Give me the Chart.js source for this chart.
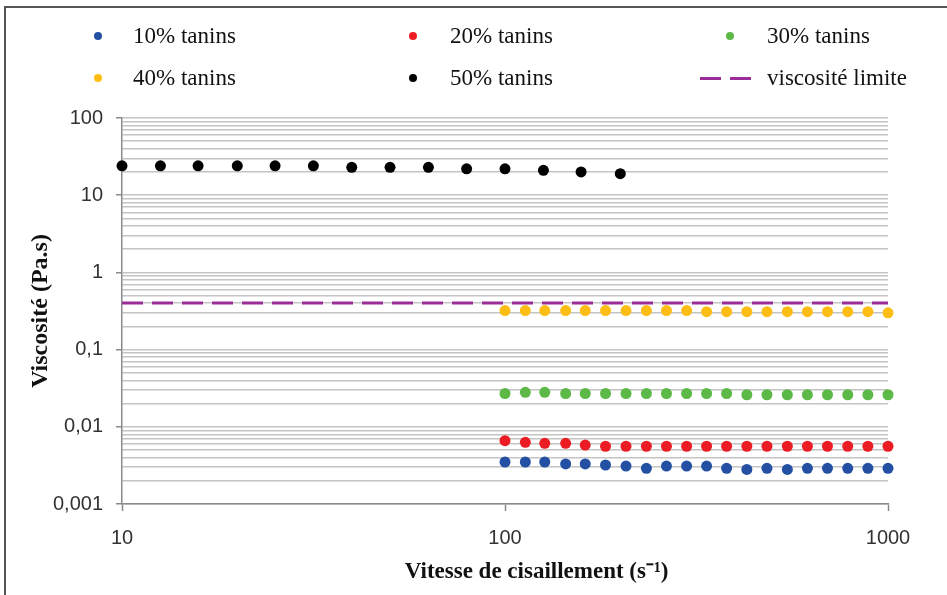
<!DOCTYPE html>
<html><head><meta charset="utf-8">
<script src="https://cdn.jsdelivr.net/npm/chart.js@4.4.0/dist/chart.umd.min.js"></script>
<style>
html,body{margin:0;padding:0;background:#fff;overflow:hidden;}
#wrap{position:relative;width:947px;height:595px;}
#frame{position:absolute;left:4px;top:6px;width:1200px;height:1200px;border:2px solid #555;pointer-events:none;}
#legend{position:absolute;left:0;top:0;width:947px;height:100px;font-family:"Liberation Serif",serif;font-size:23px;color:#111;}
.lt{position:absolute;white-space:nowrap;line-height:26px;}
.mk{position:absolute;}
</style></head><body>
<div id="wrap"><canvas id="c" width="947" height="595"></canvas><div id="legend"></div><div id="frame"></div></div>
<script>
// ---- data ----
const seriesLabels = ['10% tanins', '20% tanins', '30% tanins', '40% tanins', '50% tanins', 'viscosité limite'];
const shearLow = [10, 12.6, 15.8, 20, 25.1, 31.6, 39.8, 50.1, 63.1, 79.4, 100, 126, 158, 200];
const shearHigh = [100, 113, 127, 144, 162, 183, 207, 234, 264, 298, 336, 379, 428, 483, 546, 616, 695, 785, 886, 1000];
const visc10 = [0.0035, 0.0035, 0.0035, 0.0033, 0.0033, 0.0032, 0.0031, 0.0029, 0.0031, 0.0031, 0.0031, 0.0029, 0.0028, 0.0029, 0.0028, 0.0029, 0.0029, 0.0029, 0.0029, 0.0029];
const visc20 = [0.0066, 0.0063, 0.0061, 0.0061, 0.0058, 0.0056, 0.0056, 0.0056, 0.0056, 0.0056, 0.0056, 0.0056, 0.0056, 0.0056, 0.0056, 0.0056, 0.0056, 0.0056, 0.0056, 0.0056];
const visc30 = [0.027, 0.028, 0.028, 0.027, 0.027, 0.027, 0.027, 0.027, 0.027, 0.027, 0.027, 0.027, 0.026, 0.026, 0.026, 0.026, 0.026, 0.026, 0.026, 0.026];
const visc40 = [0.32, 0.32, 0.32, 0.32, 0.32, 0.32, 0.32, 0.32, 0.32, 0.32, 0.31, 0.31, 0.31, 0.31, 0.31, 0.31, 0.31, 0.31, 0.31, 0.30];
const visc50 = [24, 24, 24, 24, 24, 24, 23, 23, 23, 22, 22, 21, 20, 19];
const limitX = [10, 1000];
const limitY = [0.4, 0.4];
const yTickValues = [0.001, 0.01, 0.1, 1, 10, 100];
const yTickLabels = ['0,001', '0,01', '0,1', '1', '10', '100'];
const xTickValues = [10, 100, 1000];
const xTickLabels = ['10', '100', '1000'];
const colors = ['#2350a3', '#ec1c24', '#5cb947', '#fdbd14', '#000000', '#9b2d98'];

const pts = (xs, ys) => xs.map((x, i) => ({x: x, y: ys[i]}));
const isMajorY = v => yTickValues.some(t => Math.abs(t - v) / t < 1e-6);
const yGrid = [];
yTickValues.forEach((t, i) => {
  if (i === yTickValues.length - 1) { yGrid.push(t); return; }
  for (let k = 1; k <= 9; k++) yGrid.push(+(t * k).toPrecision(3));
});

const scatterDs = (idx, xs, ys) => ({
  label: seriesLabels[idx], data: pts(xs, ys), showLine: false,
  pointRadius: 5.5, pointBorderWidth: 0, backgroundColor: colors[idx], borderColor: colors[idx], clip: false
});

const chart = new Chart(document.getElementById('c'), {
  type: 'scatter',
  data: {
    datasets: [
      {label: seriesLabels[5], data: pts(limitX, limitY), showLine: true, pointRadius: 0,
       borderColor: colors[5], backgroundColor: colors[5], borderWidth: 3, borderDash: [21, 9], clip: false},
      scatterDs(0, shearHigh, visc10),
      scatterDs(1, shearHigh, visc20),
      scatterDs(2, shearHigh, visc30),
      scatterDs(3, shearHigh, visc40),
      scatterDs(4, shearLow, visc50)
    ]
  },
  options: {
    responsive: false, animation: false, events: [],
    layout: {padding: {left: 0, right: 59, top: 118, bottom: 0}},
    plugins: {legend: {display: false}, tooltip: {enabled: false}},
    scales: {
      x: {
        type: 'logarithmic', min: 10, max: 1000,
        afterFit: s => { s.height = 91; },
        afterBuildTicks: s => { s.ticks = xTickValues.map(v => ({value: v, major: true})); },
        grid: {drawOnChartArea: false, tickLength: 7, tickColor: '#8a8a8a', tickWidth: 1.5},
        border: {color: '#8a8a8a', width: 1.5},
        ticks: {autoSkip: false, maxRotation: 0, padding: 15, color: '#333',
          font: {family: 'Liberation Sans', size: 20},
          callback: v => { const i = xTickValues.findIndex(t => Math.abs(t - v) / t < 1e-6); return i >= 0 ? xTickLabels[i] : ''; }},
        title: {display: true, text: '           Vitesse de cisaillement (s\u207B\u00B9)', color: '#111',
          font: {family: 'Liberation Serif', size: 23, weight: 'bold'}, padding: {top: 0, bottom: 9}}
      },
      y: {
        type: 'logarithmic', min: 0.001, max: 100,
        afterFit: s => { s.width = 122; },
        afterBuildTicks: s => { s.ticks = yGrid.map(v => ({value: v, major: isMajorY(v)})); },
        grid: {color: '#c4c4c4', lineWidth: 1.5, tickLength: 6,
          tickColor: c => (c.tick && isMajorY(c.tick.value)) ? '#8a8a8a' : 'rgba(0,0,0,0)', tickWidth: 1.5},
        border: {color: '#8a8a8a', width: 1.5},
        ticks: {autoSkip: false, padding: 13, color: '#333',
          font: {family: 'Liberation Sans', size: 20},
          callback: v => { const i = yTickValues.findIndex(t => Math.abs(t - v) / t < 1e-6); return i >= 0 ? yTickLabels[i] : ''; }},
        title: {display: true, text: 'Viscosité (Pa.s)', color: '#111',
          font: {family: 'Liberation Serif', size: 24, weight: 'bold'}, padding: {top: 26, bottom: 0}}
      }
    }
  }
});

// ---- legend (HTML, built from the chart's datasets) ----
const legendCols = [{mk: 98, tx: 133}, {mk: 413, tx: 450}, {mk: 730, tx: 767}];
const legendRows = [36, 78];
const lg = document.getElementById('legend');
const order = [1, 2, 3, 4, 5, 0];
order.forEach((dsIdx, n) => {
  const ds = chart.data.datasets[dsIdx];
  const col = legendCols[n % 3], cy = legendRows[Math.floor(n / 3)];
  const t = document.createElement('div');
  t.className = 'lt'; t.textContent = ds.label;
  t.style.left = col.tx + 'px'; t.style.top = (cy - 13) + 'px';
  lg.appendChild(t);
  if (ds.showLine) {
    [0, 30].forEach(off => {
      const d = document.createElement('div');
      d.className = 'mk';
      d.style.cssText = 'left:' + (700 + off) + 'px;top:' + (cy - 1.5) + 'px;width:21px;height:3px;background:' + ds.borderColor;
      lg.appendChild(d);
    });
  } else {
    const d = document.createElement('div');
    d.className = 'mk';
    d.style.cssText = 'left:' + (col.mk - 4) + 'px;top:' + (cy - 4) + 'px;width:8px;height:8px;border-radius:50%;background:' + ds.backgroundColor;
    lg.appendChild(d);
  }
});
</script>
</body></html>
